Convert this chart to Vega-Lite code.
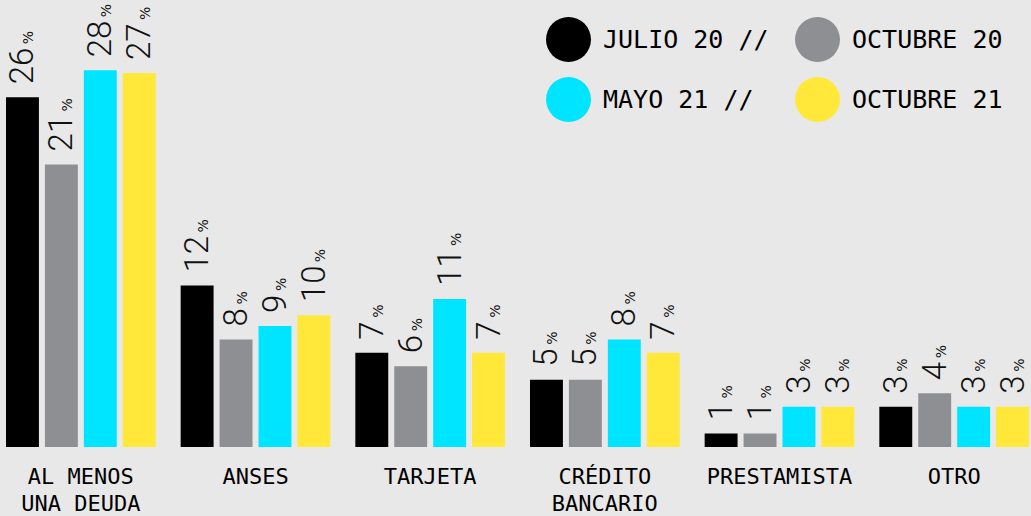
{
  "$schema": "https://vega.github.io/schema/vega-lite/v6.json",
  "width": 1023,
  "height": 447,
  "autosize": {"type": "none"},
  "padding": {"left": 6, "top": 0, "right": 2, "bottom": 69},
  "background": "#e8e8e8",
  "config": {"view": {"stroke": null}},
  "data": {
    "values": [
      {"cat": "AL MENOS|UNA DEUDA", "serie": "JULIO 20", "value": 26, "label": "26"},
      {"cat": "AL MENOS|UNA DEUDA", "serie": "OCTUBRE 20", "value": 21, "label": "21"},
      {"cat": "AL MENOS|UNA DEUDA", "serie": "MAYO 21", "value": 28, "label": "28"},
      {"cat": "AL MENOS|UNA DEUDA", "serie": "OCTUBRE 21", "value": 27.8, "label": "27"},
      {"cat": "ANSES", "serie": "JULIO 20", "value": 12, "label": "12"},
      {"cat": "ANSES", "serie": "OCTUBRE 20", "value": 8, "label": "8"},
      {"cat": "ANSES", "serie": "MAYO 21", "value": 9, "label": "9"},
      {"cat": "ANSES", "serie": "OCTUBRE 21", "value": 9.8, "label": "10"},
      {"cat": "TARJETA", "serie": "JULIO 20", "value": 7, "label": "7"},
      {"cat": "TARJETA", "serie": "OCTUBRE 20", "value": 6, "label": "6"},
      {"cat": "TARJETA", "serie": "MAYO 21", "value": 11, "label": "11"},
      {"cat": "TARJETA", "serie": "OCTUBRE 21", "value": 7, "label": "7"},
      {"cat": "CRÉDITO|BANCARIO", "serie": "JULIO 20", "value": 5, "label": "5"},
      {"cat": "CRÉDITO|BANCARIO", "serie": "OCTUBRE 20", "value": 5, "label": "5"},
      {"cat": "CRÉDITO|BANCARIO", "serie": "MAYO 21", "value": 8, "label": "8"},
      {"cat": "CRÉDITO|BANCARIO", "serie": "OCTUBRE 21", "value": 7, "label": "7"},
      {"cat": "PRESTAMISTA", "serie": "JULIO 20", "value": 1, "label": "1"},
      {"cat": "PRESTAMISTA", "serie": "OCTUBRE 20", "value": 1, "label": "1"},
      {"cat": "PRESTAMISTA", "serie": "MAYO 21", "value": 3, "label": "3"},
      {"cat": "PRESTAMISTA", "serie": "OCTUBRE 21", "value": 3, "label": "3"},
      {"cat": "OTRO", "serie": "JULIO 20", "value": 3, "label": "3"},
      {"cat": "OTRO", "serie": "OCTUBRE 20", "value": 4, "label": "4"},
      {"cat": "OTRO", "serie": "MAYO 21", "value": 3, "label": "3"},
      {"cat": "OTRO", "serie": "OCTUBRE 21", "value": 3, "label": "3"}
    ]
  },
  "encoding": {
    "x": {
      "field": "cat",
      "type": "nominal",
      "sort": null,
      "title": null,
      "scale": {"paddingInner": 0.143, "paddingOuter": 0},
      "axis": {
        "domain": false,
        "ticks": false,
        "labelAngle": 0,
        "labelFont": "DejaVu Sans Mono",
        "labelFontSize": 22,
        "labelColor": "#000000",
        "labelPadding": 19,
        "labelBaseline": "top",
        "labelLineHeight": 27,
        "labelExpr": "split(datum.label, '|')"
      }
    },
    "xOffset": {
      "field": "serie",
      "type": "nominal",
      "sort": ["JULIO 20", "OCTUBRE 20", "MAYO 21", "OCTUBRE 21"],
      "scale": {"paddingInner": 0.154, "paddingOuter": 0}
    },
    "y": {
      "field": "value",
      "type": "quantitative",
      "scale": {"domain": [0, 33.23], "nice": false},
      "axis": null
    }
  },
  "layer": [
    {
      "mark": {"type": "bar"},
      "encoding": {
        "color": {
          "field": "serie",
          "type": "nominal",
          "sort": ["JULIO 20", "OCTUBRE 20", "MAYO 21", "OCTUBRE 21"],
          "scale": {
            "domain": ["JULIO 20", "OCTUBRE 20", "MAYO 21", "OCTUBRE 21"],
            "range": ["#000000", "#8d8f92", "#00e5ff", "#ffe83a"]
          },
          "legend": {
            "orient": "none",
            "legendX": 540,
            "legendY": 17,
            "columns": 2,
            "direction": "horizontal",
            "title": null,
            "padding": 0,
            "symbolType": "circle",
            "symbolSize": 2025,
            "symbolStrokeWidth": 0,
            "symbolOpacity": 1,
            "labelFont": "DejaVu Sans Mono",
            "labelFontSize": 25,
            "labelColor": "#000000",
            "labelOffset": 12,
            "columnPadding": 26,
            "rowPadding": 15,
            "labelLimit": 400,
            "labelExpr": "(datum.label == 'JULIO 20' || datum.label == 'MAYO 21') ? datum.label + ' //' : datum.label"
          }
        }
      }
    },
    {
      "mark": {
        "type": "text",
        "angle": 270,
        "align": "left",
        "baseline": "alphabetic",
        "dx": 13,
        "dy": 11,
        "font": "Roboto",
        "fontWeight": 300,
        "fontSize": 33,
        "color": "#111111"
      },
      "encoding": {"text": {"field": "label", "type": "nominal"}}
    },
    {
      "transform": [{"filter": "length(datum.label) < 2"}],
      "mark": {
        "type": "text",
        "angle": 270,
        "align": "left",
        "baseline": "alphabetic",
        "dx": 35,
        "dy": 11,
        "font": "DejaVu Sans",
        "fontSize": 14,
        "color": "#111111"
      },
      "encoding": {"text": {"value": "%"}}
    },
    {
      "transform": [{"filter": "length(datum.label) >= 2"}],
      "mark": {
        "type": "text",
        "angle": 270,
        "align": "left",
        "baseline": "alphabetic",
        "dx": 53,
        "dy": 11,
        "font": "DejaVu Sans",
        "fontSize": 14,
        "color": "#111111"
      },
      "encoding": {"text": {"value": "%"}}
    }
  ]
}
